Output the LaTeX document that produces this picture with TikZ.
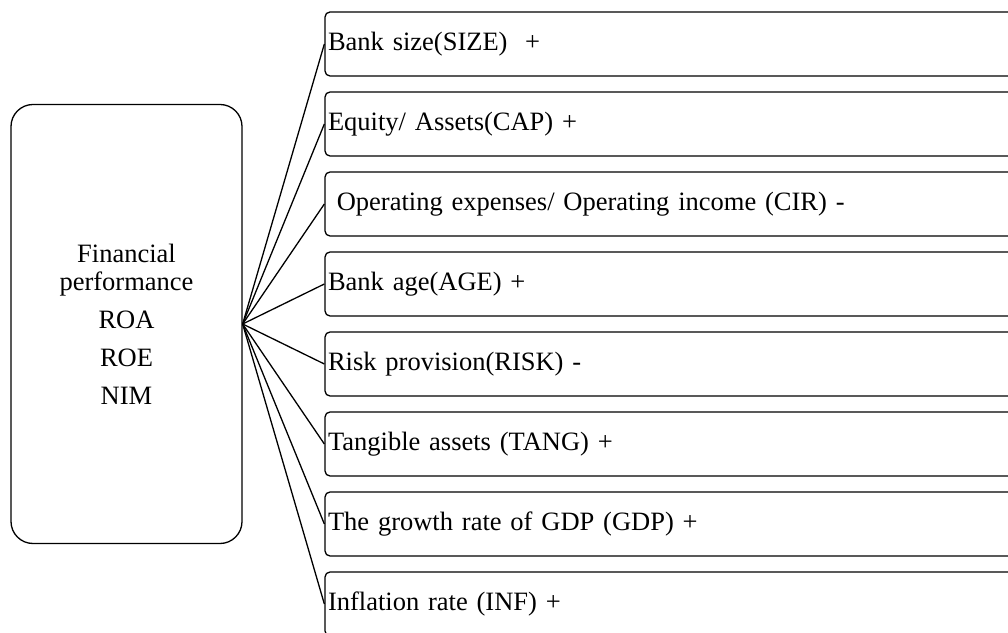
\documentclass[tikz,border=0pt]{standalone}
\usepackage{fontspec}
\setmainfont{Liberation Serif}
\usetikzlibrary{positioning}

\begin{document}
\begin{tikzpicture}[x=1pt, y=1pt,
					line width=1.3pt,
					font=\fontsize{26.5}{28}\selectfont,
					grow'=right,
					level distance=551pt,
					level 1/.style={sibling distance=80pt},
					edge from parent path={(\tikzparentnode.east) -- (\tikzchildnode.west)},
					factor/.style={draw, rounded corners=5pt, minimum height=64pt,
						text width=699pt, inner xsep=3pt, align=left}]
					\useasboundingbox (0,0) rectangle (1008,632);
					\node[draw, rounded corners=22pt, minimum width=231pt, minimum height=439pt, align=center] (perf) at (126.5,308)
					{Financial\\performance\\[10pt]ROA\\[10pt]ROE\\[10pt]NIM}
					child {node[factor] (size) {Bank size(SIZE)\ \ +}}
					child {node[factor] (cap) {Equity/ Assets(CAP) +}}
					child {node[factor] (cir) {\ Operating expenses/ Operating income (CIR) -}}
					child {node[factor] (age) {Bank age(AGE) +}}
					child {node[factor] (risk) {Risk provision(RISK) -}}
					child {node[factor] (tang) {Tangible assets (TANG) +}}
					child {node[factor] (gdp) {The growth rate of GDP (GDP) +}}
					child {node[factor] (inf) {Inflation rate (INF) +}};
				\end{tikzpicture}
\end{document}
